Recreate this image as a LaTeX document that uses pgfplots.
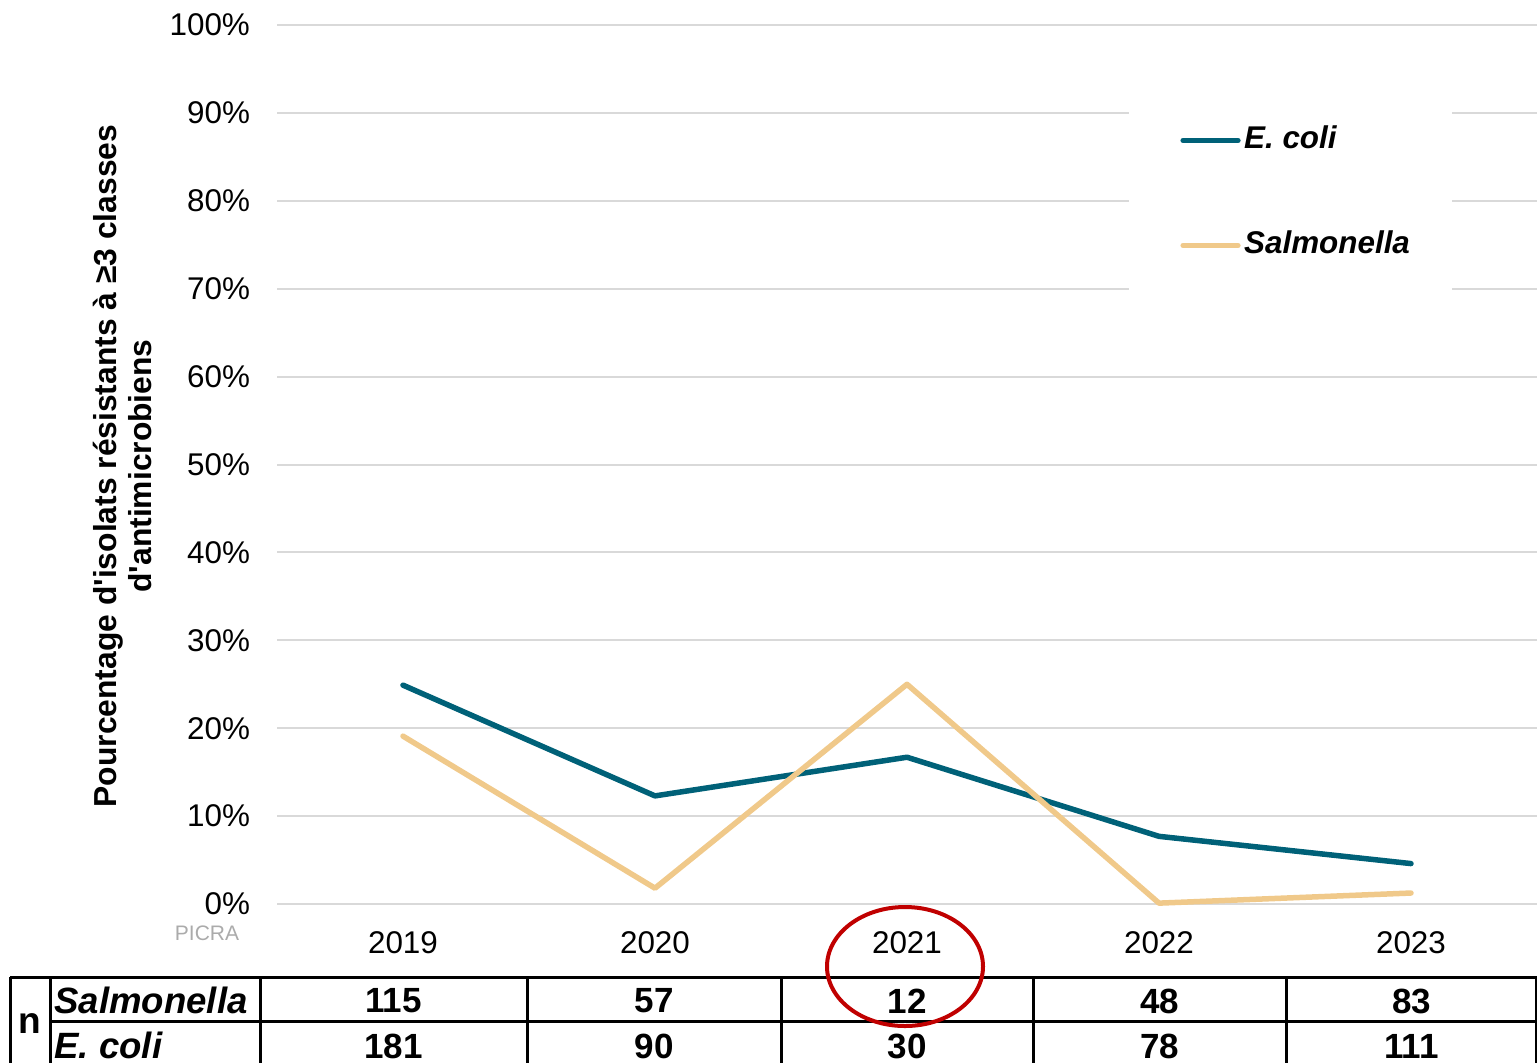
\documentclass[border=0pt]{standalone}
\usepackage{pgfplots}
\pgfplotsset{compat=1.18}
\usepackage{fontspec}
\setmainfont{Liberation Sans}[Ligatures=TeXOff]
\definecolor{ecoli}{RGB}{0,97,120}
\definecolor{salm}{RGB}{240,201,138}
\definecolor{gridc}{RGB}{217,217,217}
\definecolor{circ}{RGB}{192,0,0}
\begin{document}
\begin{tikzpicture}
\path[use as bounding box] (0,0) rectangle (768.5pt,-531pt);
\begin{axis}[
 at={(138.5pt,-452pt)}, anchor=south west,
 scale only axis, width=630pt, height=439.5pt,
 xmin=-0.5, xmax=4.5, ymin=0, ymax=100,
 axis line style={draw=none},
 xtick={0,1,2,3,4}, xticklabels={2019,2020,2021,2022,2023},
 ytick={0,10,...,100}, yticklabel={\pgfmathprintnumber{\tick}\%},
 major tick length=0pt,
 ymajorgrids, grid style={gridc, line width=1pt},
 tick label style={font=\fontsize{15.7}{18}\selectfont},
 /pgf/number format/assume math mode=true,
 yticklabel style={xshift=-10pt},
 xticklabel style={yshift=-10pt},
 legend style={at={(axis description cs:0.7167,0.8856)}, anchor=north west,
   draw=none, fill=none, inner sep=0pt, row sep=38pt,
   font=\bfseries\itshape\fontsize{15.7}{18}\selectfont,
   nodes={inner sep=0pt, inner xsep=1.75pt, text height=11.5pt, text depth=3pt}},
 legend cell align=left,
 legend image code/.code={\draw[#1, line width=2.6pt, line cap=round] (0pt,0pt) -- (27.5pt,0pt);},
 clip=false,
]
\fill[white] (axis description cs:0.676,0.920) rectangle (axis description cs:0.9325,0.6906);
\addplot[ecoli, line width=2.75pt, line cap=round, line join=round] coordinates {(0,24.9)(1,12.3)(2,16.7)(3,7.7)(4,4.6)};
\addlegendentry{E. coli}
\addplot[salm, line width=2.75pt, line cap=round, line join=round] coordinates {(0,19.1)(1,1.8)(2,25.0)(3,0.1)(4,1.25)};
\addlegendentry{Salmonella}
\end{axis}
\begin{scope}[x=0.5pt,y=-0.5pt]
\node[rotate=90, align=center, font=\bfseries\fontsize{15.9}{17.5}\selectfont] at (122,466)
  {Pourcentage d'isolats résistants à ≥3 classes\\d'antimicrobiens};
\node[text=black!33, font=\fontsize{10.5}{12}\selectfont] at (207,933) {PICRA};
\draw[line width=1.5pt] (10,977) -- (1537,977);
\draw[line width=1.5pt] (50,1021) -- (1537,1021);
\foreach \xx in {10,50,260,527,781,1033,1286,1536}
  \draw[line width=1.5pt] (\xx,977) -- (\xx,1075);
\node[font=\bfseries\fontsize{18.5}{20}\selectfont] at (30,1024) {n};
\node[anchor=west, inner sep=0pt, font=\bfseries\itshape\fontsize{18.3}{20}\selectfont] at (54,1000) {Salmonella};
\node[anchor=west, inner sep=0pt, font=\bfseries\itshape\fontsize{18.3}{20}\selectfont] at (54,1045) {E. coli};
\foreach \xx/\a/\b in {393.5/115/181, 654/57/90, 907/12/30, 1159.5/48/78, 1411.5/83/111} {
  \node[font=\bfseries\fontsize{17.5}{19}\selectfont] at (\xx,1001) {\a};
  \node[font=\bfseries\fontsize{17.5}{19}\selectfont] at (\xx,1046) {\b};
}
\draw[circ, line width=2pt] (905,966.5) ellipse [x radius=39pt, y radius=29.75pt];
\end{scope}
\end{tikzpicture}
\end{document}
